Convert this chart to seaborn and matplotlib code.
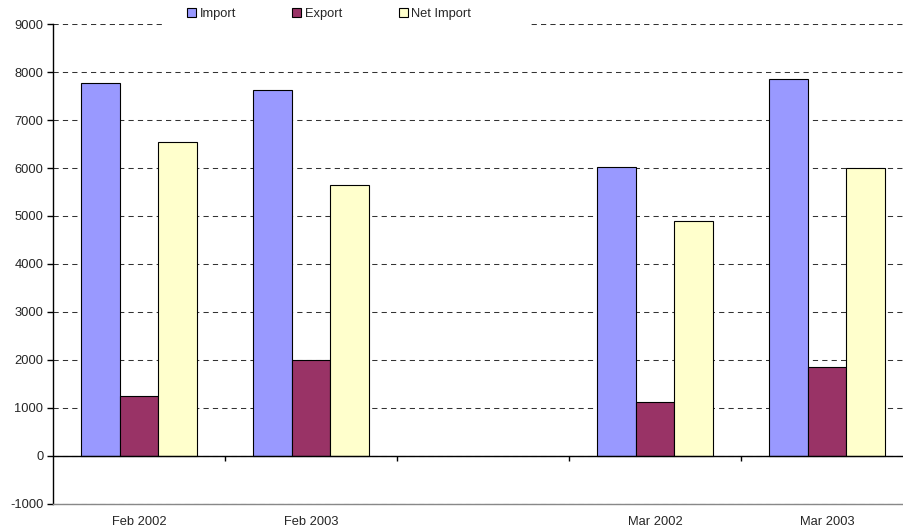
import matplotlib
matplotlib.use("Agg")
import matplotlib.pyplot as plt
from matplotlib.patches import Patch, Rectangle
import seaborn as sns
import pandas as pd

categories = ["Feb 2002", "Feb 2003", " ", "Mar 2002", "Mar 2003"]
series = ["Import", "Export", "Net Import"]
import_vals = [7780, 7630, None, 6020, 7850]
export_vals = [1240, 2000, None, 1130, 1850]
net_vals = [6540, 5650, None, 4900, 6000]
colors = ["#9999FF", "#993366", "#FFFFCC"]
yticks = list(range(-1000, 9001, 1000))

rows = []
for i, c in enumerate(categories):
    for s, vals in zip(series, [import_vals, export_vals, net_vals]):
        if vals[i] is not None:
            rows.append({"cat": c, "series": s, "value": vals[i]})
df = pd.DataFrame(rows)

sns.set_style("white")
plt.rcParams["font.family"] = ["Liberation Sans", "DejaVu Sans"]

fs = 9.3
fig = plt.figure(figsize=(9.04, 5.32), dpi=100)
ax = fig.add_axes([53 / 904, 28 / 532, 860 / 904, 480 / 532])

sns.barplot(data=df, x="cat", y="value", hue="series", order=categories,
            hue_order=series, palette=colors, width=0.67, edgecolor="black",
            linewidth=0.8, ax=ax, legend=False, saturation=1, errorbar=None)

ax.set_xlim(-0.5, 4.5)
ax.set_ylim(-1000, 9000)
ax.set_yticks(yticks)
ax.set_yticklabels([str(v) for v in yticks])
ax.set_xlabel("")
ax.set_ylabel("")

ax.yaxis.grid(True, color="#333333", linestyle=(0, (5, 4)), linewidth=0.75)
ax.set_axisbelow(True)
for s in ["top", "right"]:
    ax.spines[s].set_visible(False)
ax.spines["left"].set_color("black")
ax.spines["left"].set_linewidth(1)
ax.spines["bottom"].set_color("#888888")
ax.spines["bottom"].set_linewidth(1)

ax.tick_params(axis="y", left=True, length=4, width=1, color="black",
               labelsize=fs, pad=3)
ax.tick_params(axis="x", bottom=False, length=0, labelsize=fs, pad=8.5)

# zero axis line with category boundary ticks
ax.axhline(0, color="black", linewidth=1, zorder=3)
ax.vlines([0.5, 1.5, 2.5, 3.5], -100, 0, color="black", linewidth=1, zorder=3)

# legend area covers top gridline
fig.patches.append(Rectangle((165 / 904, 1 - 30 / 532), 365 / 904, 26 / 532,
                             transform=fig.transFigure, facecolor="white",
                             edgecolor="none", zorder=5))
handles = [Patch(facecolor=c, edgecolor="black", linewidth=0.8) for c in colors]
leg = fig.legend(handles, series, loc="center", bbox_to_anchor=(329 / 904, 1 - 14 / 532),
                 ncol=3, frameon=False, fontsize=fs, handlelength=0.7,
                 handleheight=0.7, handletextpad=0.3, columnspacing=4.35)
leg.set_zorder(6)

fig.savefig("out.png", dpi=100)
